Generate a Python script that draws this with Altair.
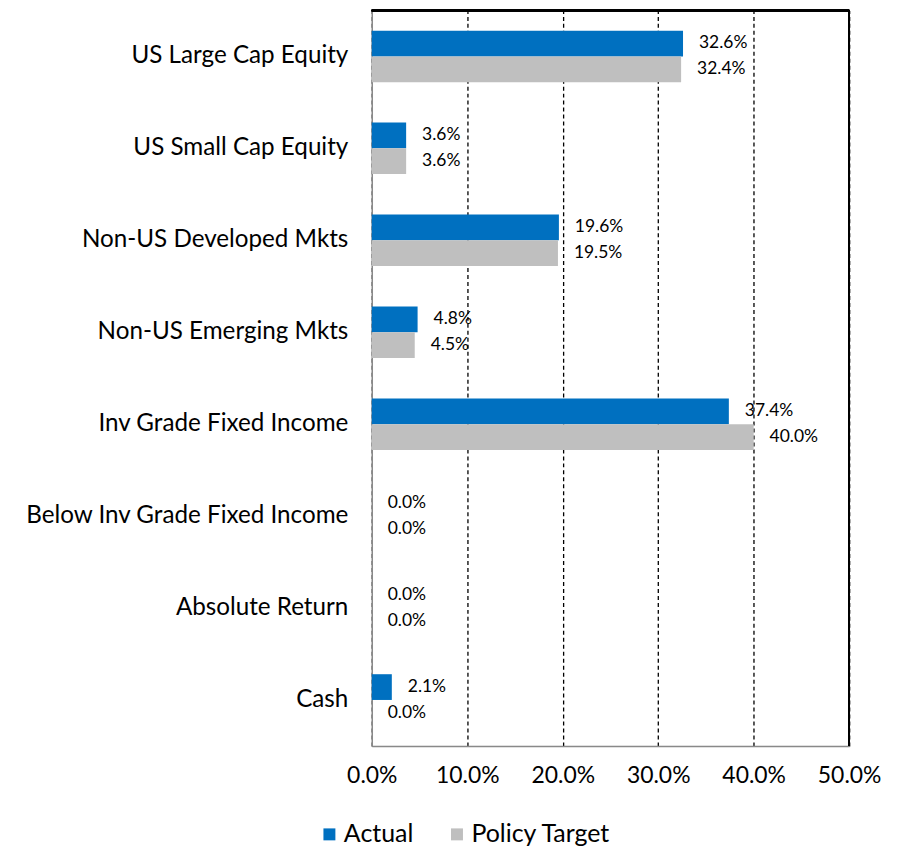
import altair as alt
import pandas as pd

categories = ["US Large Cap Equity", "US Small Cap Equity", "Non-US Developed Mkts",
              "Non-US Emerging Mkts", "Inv Grade Fixed Income",
              "Below Inv Grade Fixed Income", "Absolute Return", "Cash"]
actual = [32.6, 3.6, 19.6, 4.8, 37.4, 0.0, 0.0, 2.1]
policy = [32.4, 3.6, 19.5, 4.5, 40.0, 0.0, 0.0, 0.0]
series = ["Actual", "Policy Target"]
colors = ["#0070C0", "#BFBFBF"]
x_ticks = [0, 10, 20, 30, 40, 50]
x_max = 50

rows = []
for c, a, p in zip(categories, actual, policy):
    rows.append({"cat": c, "series": series[0], "val": a, "lbl": f"{a:.1f}%"})
    rows.append({"cat": c, "series": series[1], "val": p, "lbl": f"{p:.1f}%"})
df = pd.DataFrame(rows)

FONT = "Lato"
W, H = 479, 738

y = alt.Y("cat:N", sort=categories, title=None,
          scale=alt.Scale(paddingInner=0.44, paddingOuter=0.22),
          axis=alt.Axis(labelFontSize=24.3, labelFont=FONT, labelColor="black",
                        ticks=False, labelPadding=24, domainColor="#898989",
                        domainWidth=1.5, labelLimit=400))
x = alt.X("val:Q", title=None,
          scale=alt.Scale(domain=[0, x_max], nice=False),
          axis=alt.Axis(values=x_ticks, labelOverlap=False, labelFlush=False,
                        labelExpr="format(datum.value, '.1f') + '%'",
                        labelFontSize=23, labelFont=FONT, labelColor="black",
                        ticks=False, labelPadding=19, grid=True,
                        gridColor="black", gridDash=[4, 3], gridWidth=1.3,
                        domainColor="#898989", domainWidth=1.5))

bars = alt.Chart(df).mark_bar().encode(
    y=y, x=x,
    yOffset=alt.YOffset("series:N", sort=series),
    color=alt.Color("series:N", sort=series,
                    scale=alt.Scale(domain=series, range=colors),
                    legend=alt.Legend(title=None, orient="none", legendX=-55, legendY=814,
                                      padding=0,
                                      direction="horizontal", symbolType="square",
                                      symbolSize=144, symbolStrokeWidth=0,
                                      labelFontSize=25, labelFont=FONT,
                                      labelColor="black", labelOffset=2,
                                      columnPadding=31)),
)

labels = alt.Chart(df).mark_text(align="left", baseline="middle", dx=16,
                                 fontSize=17.5, font=FONT, color="black").encode(
    y=alt.Y("cat:N", sort=categories),
    yOffset=alt.YOffset("series:N", sort=series),
    x="val:Q",
    text="lbl:N",
)

frame_top = alt.Chart(df).mark_rule(color="black", strokeWidth=1.5).encode(
    x=alt.value(0), x2=alt.value(W), y=alt.value(0))
frame_right = alt.Chart(df).mark_rule(color="black", strokeWidth=1.5).encode(
    x=alt.datum(x_max), y=alt.value(0), y2=alt.value(H))

chart = (bars + labels + frame_top + frame_right).properties(
    width=W, height=H,
    autosize=alt.AutoSizeParams(type="none"),
    padding={"left": 365, "top": 1, "right": 45, "bottom": 103},
).configure_view(stroke=None).configure(background="white")

chart.save("out.html", embed_options={"renderer": "svg", "actions": False})
